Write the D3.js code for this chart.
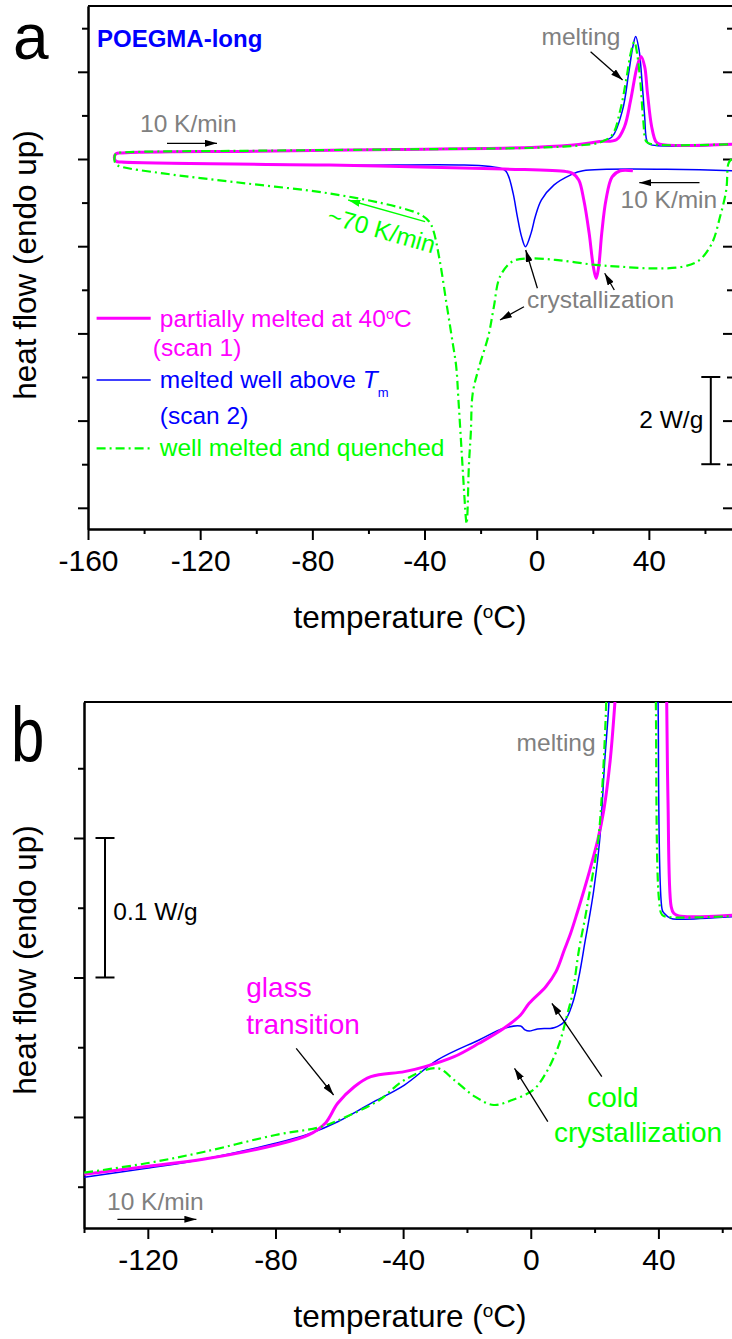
<!DOCTYPE html>
<html>
<head>
<meta charset="utf-8">
<script src="https://cdn.jsdelivr.net/npm/d3@7"></script>
<style>
body { margin: 0; background: #fff; }
svg text { font-family: "Liberation Sans", Arial, sans-serif; }
</style>
</head>
<body>
<script>
// ---- axis ticks ----
const tempTicksA = [-160, -120, -80, -40, 0, 40]
const tempMinorA = [-140, -100, -60, -20, 20, 60]
const heatTicksA = [-8, -6, -4, -2, 0, 2]
const heatMinorA = [-7, -5, -3, -1, 1, 3]
const tempTicksB = [-120, -80, -40, 0, 40]
const tempMinorB = [-140, -100, -60, -20, 20, 60]
const heatTicksB = [0, 0.1, 0.2]
const heatMinorB = [-0.05, 0.05, 0.15, 0.25]

// ---- panel a : [temperature °C, heat flow W/g] ----
const scan1A = [[34.3,-0.27],[29.8,-0.27],[26.9,-0.41],[24.7,-0.94],[23.2,-1.70],[22.1,-2.47],[21.2,-2.74],
  [20.2,-2.47],[18.7,-1.70],[16.8,-0.94],[15.0,-0.48],[12.8,-0.33],[10.6,-0.29],[-11.7,-0.23],[-73.9,-0.14],
  [-148,-0.07],[-150,-0.05],[-150.6,0.03],[-150,0.12],[-148,0.14],[-100,0.18],[-50,0.22],[0,0.27],[15,0.33],
  [22.5,0.40],[28.4,0.44],[31.3,0.74],[33.5,1.35],[35.8,2.12],[37.2,2.35],[38.5,2.12],[39.5,1.51],[41.0,0.74],
  [42.5,0.40],[43.9,0.34],[70,0.34]]
const scan2A = [[70,-0.27],[16.5,-0.27],[12.0,-0.37],[6.1,-0.60],[1.7,-0.94],[-0.5,-1.32],[-2.0,-1.70],[-4.0,-2.01],
  [-5.4,-1.78],[-6.9,-1.32],[-8.4,-0.79],[-10.2,-0.37],[-11.7,-0.24],[-73.9,-0.14],[-148,-0.07],[-150,-0.05],
  [-150.6,0.03],[-150,0.12],[-148,0.14],[-100,0.18],[-50,0.22],[0,0.27],[15,0.33],[22.5,0.40],[26.9,0.51],
  [30.6,1.12],[32.8,1.97],[34.3,2.58],[35.3,2.81],[36.5,2.50],[37.6,1.74],[38.5,0.97],[39.2,0.44],[40.2,0.34],[70,0.34]]
const quenchA = [[69.5,0.0],[68.4,-0.10],[67.6,-0.71],[65.4,-1.32],[62.5,-1.93],[58.0,-2.32],[52.1,-2.47],[41.7,-2.51],
  [29.8,-2.47],[21.0,-2.43],[7.6,-2.32],[-2.8,-2.28],[-8.7,-2.35],[-13.1,-2.70],[-15.3,-3.40],[-17.2,-4.05],
  [-20.5,-4.76],[-22.8,-5.37],[-23.5,-6.29],[-24.2,-7.06],[-24.7,-8.13],[-25.0,-8.37],[-25.3,-8.20],[-25.7,-7.82],
  [-26.8,-6.67],[-27.9,-5.53],[-28.7,-4.76],[-30.0,-4.20],[-32.2,-3.30],[-34.6,-2.32],[-36.9,-1.63],[-38.3,-1.44],
  [-41.3,-1.28],[-50.2,-1.09],[-73.9,-0.79],[-103.6,-0.56],[-133.2,-0.33],[-148,-0.18],[-150,-0.12],[-150.6,0.0],
  [-150,0.13],[-148,0.15],[-100,0.19],[-50,0.22],[0,0.26],[15,0.31],[22.5,0.38],[26.9,0.55],[29.8,1.12],[32.1,1.89],
  [33.5,2.42],[34.8,2.69],[35.8,2.42],[37.0,1.74],[38.0,0.89],[39.1,0.40],[41.0,0.34],[70,0.34]]

// ---- panel b ----
const scan1B = [[-139.9,-0.0411],[-120.4,-0.0355],[-102.2,-0.0301],[-80.0,-0.0201],[-69.6,-0.0129],[-64.4,-0.0045],
  [-60.5,0.0098],[-55.3,0.0217],[-50.1,0.0289],[-39.6,0.0325],[-33.1,0.0361],[-24.0,0.0432],[-16.2,0.0528],
  [-8.4,0.0636],[-3.2,0.0731],[-0.5,0.0815],[4.7,0.0934],[7.9,0.1042],[10.5,0.1197],[12.5,0.1317],[14.5,0.1460],
  [15.7,0.155],[18.5,0.177],[21.0,0.1986],[22.9,0.2201],[24.9,0.2559],[26.2,0.2918],[27.6,0.34],[35,0.6],
  [42.4,0.34],[42.6,0.2977],[43.0,0.227],[44.0,0.1508],[44.8,0.146],[46.4,0.1441],[64,0.1448]]
const scan2B = [[-139.9,-0.0432],[-120.4,-0.0368],[-102.2,-0.0301],[-80.0,-0.0189],[-69.6,-0.0122],[-60.5,-0.0034],
  [-50.1,0.0098],[-39.6,0.0229],[-29.2,0.0409],[-16.2,0.0552],[-8.4,0.0636],[-3.2,0.0652],[-1.8,0.0624],
  [-0.5,0.0616],[2.1,0.0631],[7.3,0.064],[10.5,0.0683],[13.1,0.0815],[15.1,0.1006],[17.1,0.1269],[18.4,0.1436],
  [19.7,0.162],[21.6,0.1986],[23.2,0.2559],[24.5,0.2977],[25,0.34],[32,0.6],[39.7,0.34],[39.9,0.2977],
  [41.2,0.1484],[41.8,0.146],[43.8,0.1424],[46.4,0.1417],[64,0.1436]]
const quenchB = [[-139.9,-0.0399],[-120.4,-0.0332],[-102.2,-0.0249],[-80.0,-0.0129],[-65.7,-0.0070],[-56.6,0.0014],
  [-47.4,0.0122],[-39.6,0.0265],[-29.2,0.0349],[-24.0,0.0265],[-17.5,0.0146],[-11.6,0.0086],[-5.8,0.0122],
  [0.8,0.0194],[4.7,0.0313],[8.6,0.0504],[11.8,0.0767],[13.1,0.0887],[15.1,0.1197],[17.1,0.1436],[18.0,0.1556],
  [19.5,0.175],[21.2,0.2],[22.3,0.232],[23.6,0.2941],[24,0.34],[31,0.6],[39.0,0.34],[39.2,0.2977],[40.2,0.1556],
  [41.2,0.1448],[43.8,0.1432],[64,0.1441]]

const PINK = "#ff00ff", BLUE = "#0000ff", GREEN = "#00ff00", GRAY = "#808080"

const svg = d3.select("body").append("svg")
    .attr("width", 732)
    .attr("height", 1339)

const defs = svg.append("defs")
function marker(id, color) {
    defs.append("marker")
        .attr("id", id)
        .attr("viewBox", "0 0 12 7")
        .attr("refX", 12).attr("refY", 3.5)
        .attr("markerWidth", 12).attr("markerHeight", 7)
        .attr("markerUnits", "userSpaceOnUse")
        .attr("orient", "auto")
        .append("path").attr("d", "M0,0L12,3.5L0,7z").attr("fill", color)
}
marker("ah", "#000")
marker("ahg", GREEN)

// scales
let xA = d3.scaleLinear().domain([-160, 70]).range([88, 733])
let yA = d3.scaleLinear().domain([-8.486, 3.509]).range([529, 6])
let xB = d3.scaleLinear().domain([-140, 64]).range([84, 735])
let yB = d3.scaleLinear().domain([-0.0796, 0.2975]).range([1228, 702])

function styleAxis(g) {
    g.select(".domain").attr("stroke-width", 2)
    g.selectAll(".tick line").attr("stroke-width", 2)
}

function dessinerAxes(x, y, ticksX, minorX, ticksY, minorY, id, ticksDroite) {
    let [xl, xr] = x.range()
    let [yb, yt] = y.range()

    // cadre haut
    svg.append("line").attr("x1", xl).attr("x2", xr).attr("y1", yt).attr("y2", yt)
        .attr("stroke", "#000").attr("stroke-width", 2)

    // axe x
    let gx = svg.append("g").attr("transform", "translate(0," + yb + ")")
    gx.call(d3.axisBottom(x).tickValues(minorX).tickSize(5).tickFormat("").tickSizeOuter(0)).call(styleAxis)
    let gx2 = svg.append("g").attr("transform", "translate(0," + yb + ")")
    gx2.call(d3.axisBottom(x).tickValues(ticksX).tickSize(11).tickPadding(10)
        .tickFormat(d => String(d)).tickSizeOuter(0)).call(styleAxis)
    gx2.selectAll("text").attr("font-size", 30).attr("fill", "#000")
        .attr("font-family", "'Liberation Sans', Arial, sans-serif")

    // axe y gauche
    let gy = svg.append("g").attr("transform", "translate(" + xl + ",0)")
    gy.call(d3.axisLeft(y).tickValues(minorY).tickSize(6).tickFormat("").tickSizeOuter(0)).call(styleAxis)
    gy.append("g").call(d3.axisLeft(y).tickValues(ticksY).tickSize(10).tickFormat("").tickSizeOuter(0)).call(styleAxis)

    // axe y droit (ticks vers l'intérieur)
    if (ticksDroite) {
        let gr = svg.append("g").attr("transform", "translate(" + xr + ",0)")
        gr.call(d3.axisLeft(y).tickValues(minorY).tickSize(6).tickFormat("").tickSizeOuter(0)).call(styleAxis)
        gr.append("g").call(d3.axisLeft(y).tickValues(ticksY).tickSize(10).tickFormat("").tickSizeOuter(0)).call(styleAxis)
    }

    defs.append("clipPath").attr("id", id).append("rect")
        .attr("x", xl).attr("y", yt).attr("width", xr - xl).attr("height", yb - yt)
}

dessinerAxes(xA, yA, tempTicksA, tempMinorA, heatTicksA, heatMinorA, "clipA", true)
dessinerAxes(xB, yB, tempTicksB, tempMinorB, heatTicksB, heatMinorB, "clipB", false)

// courbes
function dessinerCourbe(data, x, y, clip, color, width, dash) {
    let line = d3.line()
        .x(d => x(d[0]))
        .y(d => y(d[1]))
        .curve(d3.curveCatmullRom.alpha(0.5))
    svg.append("path")
        .attr("clip-path", "url(#" + clip + ")")
        .attr("d", line(data))
        .attr("fill", "none")
        .attr("stroke", color)
        .attr("stroke-width", width)
        .attr("stroke-dasharray", dash)
        .attr("stroke-linejoin", "round")
}

dessinerCourbe(scan2A, xA, yA, "clipA", BLUE, 1.5, null)
dessinerCourbe(scan1A, xA, yA, "clipA", PINK, 3, null)
dessinerCourbe(quenchA, xA, yA, "clipA", GREEN, 2.2, "9,4,2,4")
dessinerCourbe(scan2B, xB, yB, "clipB", BLUE, 1.5, null)
dessinerCourbe(scan1B, xB, yB, "clipB", PINK, 3, null)
dessinerCourbe(quenchB, xB, yB, "clipB", GREEN, 2.2, "9,4,2,4")

// textes
function texte(str, x, y, size, color) {
    return svg.append("text").attr("x", x).attr("y", y)
        .attr("font-size", size).attr("fill", color).text(str)
}
function degC(t, before, after) {
    t.text(before)
    t.append("tspan").attr("font-size", "60%").attr("dy", "-0.55em").text("o")
    t.append("tspan").attr("dy", "0.33em").text("C" + after)
}
function fleche(x1, y1, x2, y2, color, mk) {
    svg.append("line").attr("x1", x1).attr("y1", y1).attr("x2", x2).attr("y2", y2)
        .attr("stroke", color || "#000").attr("stroke-width", 1.3)
        .attr("marker-end", "url(#" + (mk || "ah") + ")")
}

// lettres des panneaux
texte("a", 13, 59, 64, "#000")
texte("b", 0, 0, 60, "#000").attr("transform", "translate(11,762) scale(1,1.3)")

// titres des axes
degC(texte("", 410, 628, 31.5, "#000").attr("text-anchor", "middle"), "temperature (", ")")
degC(texte("", 410, 1327, 31.5, "#000").attr("text-anchor", "middle"), "temperature (", ")")
texte("heat flow (endo up)", 0, 0, 31.5, "#000").attr("text-anchor", "middle")
    .attr("transform", "translate(36,265) rotate(-90)")
texte("heat flow (endo up)", 0, 0, 31.5, "#000").attr("text-anchor", "middle")
    .attr("transform", "translate(36,960) rotate(-90)")

// annotations panneau a
texte("POEGMA-long", 97, 46.5, 24, BLUE).attr("font-weight", "bold")
texte("10 K/min", 140, 131.5, 24.5, GRAY)
fleche(167, 143.3, 217, 143.3)
texte("melting", 541.5, 45, 24.5, GRAY)
fleche(590.6, 51.7, 622.6, 80)
texte("10 K/min", 620.5, 208, 24.5, GRAY)
fleche(699.5, 182.7, 639.3, 182.7)
texte("~70 K/min", 0, 0, 24.5, GREEN).attr("transform", "translate(326,223) rotate(16)")
fleche(425.1, 221.7, 348.2, 200, GREEN, "ahg")
texte("crystallization", 527, 308, 24.5, GRAY)
fleche(537.4, 288.3, 525.7, 250)
fleche(614.3, 290, 604.7, 273.3)
fleche(524, 306.7, 500, 320)

// barre d'échelle
function barre(x, y, v0, v1, half) {
    let g = svg.append("g").attr("stroke", "#000").attr("stroke-width", 2)
    g.append("line").attr("x1", x).attr("x2", x).attr("y1", y(v0)).attr("y2", y(v1))
    g.append("line").attr("x1", x - half).attr("x2", x + half).attr("y1", y(v0)).attr("y2", y(v0))
    g.append("line").attr("x1", x - half).attr("x2", x + half).attr("y1", y(v1)).attr("y2", y(v1))
}
barre(710.8, yA, -5, -7, 9.5)
texte("2 W/g", 639.3, 428.3, 24.5, "#000")

// légende panneau a
let legende = [
    { y: 318.3, color: PINK, w: 3, dash: null },
    { y: 380, color: BLUE, w: 1.5, dash: null },
    { y: 448.3, color: GREEN, w: 2.2, dash: "9,4,2,4" }
]
legende.forEach(l => {
    svg.append("line").attr("x1", 96.6).attr("x2", 150.7).attr("y1", l.y).attr("y2", l.y)
        .attr("stroke", l.color).attr("stroke-width", l.w).attr("stroke-dasharray", l.dash)
})
degC(texte("", 159.8, 327, 24.5, PINK), "partially melted at 40", "")
texte("(scan 1)", 152.8, 356, 24.5, PINK)
let l2 = texte("melted well above ", 159.8, 388, 24.5, BLUE)
l2.append("tspan").attr("font-style", "italic").text("T")
l2.append("tspan").attr("font-size", 13).attr("dy", 9).text("m")
texte("(scan 2)", 159.8, 424, 24.5, BLUE)
texte("well melted and quenched", 159.8, 456, 24.5, GREEN)

// annotations panneau b
texte("melting", 516.6, 751, 24.5, GRAY)
barre(105, yB, 0.1, 0.2, 9.5)
texte("0.1 W/g", 113.3, 920, 24.5, "#000")
texte("glass", 246.3, 996.5, 28, PINK)
texte("transition", 246.3, 1034.3, 28, PINK)
fleche(296.2, 1048.3, 333.6, 1095)
texte("cold", 587.3, 1106.7, 28, GREEN)
texte("crystallization", 554, 1141.7, 28, GREEN)
fleche(601.8, 1076.7, 551.9, 1003.3)
fleche(547.8, 1121.7, 514.5, 1068.3)
texte("10 K/min", 107, 1210, 24.5, GRAY)
fleche(117.4, 1219.3, 196.4, 1219.3)
</script>
</body>
</html>
